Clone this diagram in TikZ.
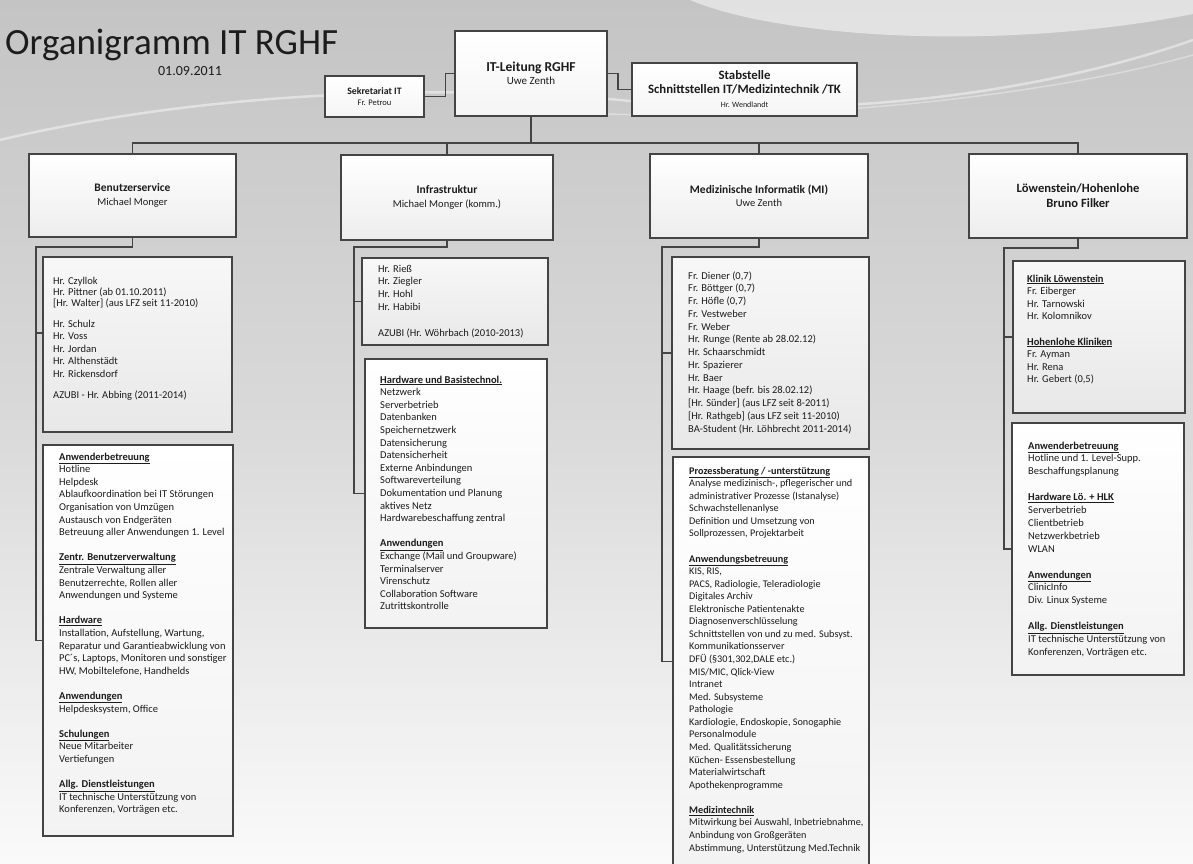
\documentclass[tikz,border=0pt]{standalone}
\usepackage{fontspec}
\setmainfont{Carlito}
\usetikzlibrary{calc}
\definecolor{bgtop}{RGB}{196,196,196}
\definecolor{bgmid}{RGB}{218,218,218}
\definecolor{bgbot}{RGB}{250,250,250}
\definecolor{linec}{RGB}{68,68,68}
\definecolor{txt}{RGB}{28,28,28}
\newcommand{\hd}[1]{\underline{\textbf{#1}}}
\newcommand{\blk}[3][10.5]{\fontsize{#1}{#2}\selectfont\begin{tabular}[t]{@{}l@{}}#3\end{tabular}}
\tikzset{
  conn/.style={draw=linec, line width=1.3pt},
  topbox/.style={draw=linec, line width=1.4pt, top color=white, bottom color=gray!8, inner sep=0pt, align=center, text=txt},
  depbox/.style={draw=linec, line width=2.8pt, top color=white, bottom color=gray!14, inner sep=0pt, align=center, text=txt},
  pbox/.style={draw=linec, line width=1.1pt, top color=gray!6, bottom color=gray!18, inner sep=0pt},
  tbox/.style={draw=linec, line width=1.1pt, top color=white, bottom color=gray!10, inner sep=0pt},
  blocktext/.style={anchor=base west, inner sep=0pt, text=txt},
}
\begin{document}
\begin{tikzpicture}[x=1pt,y=-1pt]
\useasboundingbox (0,0) rectangle (1193,863);
% background
\shade[top color=bgtop, bottom color=bgbot, middle color=bgmid] (0,0) rectangle (1193,863);
\fill[white, opacity=0.5] (690,0) .. controls (780,38) and (1000,52) .. (1193,14) -- (1193,0) -- cycle;
\draw[white, opacity=0.45, line width=2.5pt] (0,140) .. controls (200,92) and (450,82) .. (640,102) .. controls (850,120) and (1050,90) .. (1193,40);
\draw[white, opacity=0.35, line width=1.5pt] (560,112) .. controls (800,125) and (1050,95) .. (1193,55);

% title
\node[anchor=base west, inner sep=0pt, text=txt, font=\fontsize{37}{40}\selectfont] (title) at (5,54) {Organigramm IT RGHF};
\node[anchor=base, inner sep=0pt, text=txt, font=\fontsize{14}{16}\selectfont] (date) at (190,75) {01.09.2011};

% top boxes
\node[topbox, minimum width=99pt, minimum height=41pt, font=\fontsize{8.5}{11}\selectfont] (sek) at (374.5,96.5) {{\fontsize{9.8}{11}\selectfont\textbf{Sekretariat IT}}\\Fr. Petrou};
\node[topbox, line width=2.2pt, minimum width=152pt, minimum height=85pt, font=\fontsize{11}{13}\selectfont] (lead) at (531,73.5) {{\fontsize{13.6}{13}\selectfont\textbf{IT-Leitung RGHF}}\\Uwe Zenth};
\node[topbox, minimum width=225pt, minimum height=53pt, font=\fontsize{8}{14}\selectfont] (stab) at (744.5,89.5) {{\fontsize{12.8}{14}\selectfont\textbf{Stabstelle}}\\{\fontsize{12.8}{14}\selectfont\textbf{Schnittstellen IT/Medizintechnik /TK}}\\Hr. Wendlandt};

% departments
\node[depbox, minimum width=207pt, minimum height=83pt, font=\fontsize{10.5}{14}\selectfont] (d1) at (132.5,195.5) {{\fontsize{11.5}{14}\selectfont\textbf{Benutzerservice}}\\Michael Monger};
\node[depbox, minimum width=212pt, minimum height=85pt, font=\fontsize{10.5}{14}\selectfont] (d2) at (447,197.5) {{\fontsize{11.5}{14}\selectfont\textbf{Infrastruktur}}\\Michael Monger (komm.)};
\node[depbox, minimum width=218pt, minimum height=84pt, font=\fontsize{10.5}{12.5}\selectfont] (d3) at (759,196) {{\fontsize{11.5}{12.5}\selectfont\textbf{Medizinische Informatik (MI)}}\\Uwe Zenth};
\node[depbox, minimum width=218pt, minimum height=84pt, font=\fontsize{12.6}{15}\selectfont\bfseries] (d4) at (1078,196) {Löwenstein/Hohenlohe\\Bruno Filker};

% sub boxes
\node[pbox, minimum width=189pt, minimum height=175pt] (p1) at (137.5,344.5) {};
\node[tbox, minimum width=190pt, minimum height=391pt] (t1) at (138,640.5) {};
\node[pbox, minimum width=186pt, minimum height=87pt] (p2) at (455,301.5) {};
\node[tbox, minimum width=182pt, minimum height=269pt] (t2) at (456,493.5) {};
\node[pbox, minimum width=197pt, minimum height=192pt] (p3) at (770.5,353) {};
\node[tbox, minimum width=196pt, minimum height=409pt] (t3) at (771,661.5) {};
\node[pbox, minimum width=172pt, minimum height=152pt] (p4) at (1099,337) {};
\node[tbox, minimum width=172pt, minimum height=252pt] (t4) at (1098,549) {};

% connectors
\coordinate (busy) at (0,143);
\draw[conn] (sek.east) -- ++(21,0) |- (lead.west);
\draw[conn] (lead.east) -- ++(10,0) |- (stab.west);
\draw[conn] (lead.south) -- (lead.south |- busy);
\draw[conn] (d1.north) -- (d1.north |- busy) -- (d4.north |- busy) -- (d4.north);
\draw[conn] (d2.north) -- (d2.north |- busy);
\draw[conn] (d3.north) -- (d3.north |- busy);

\coordinate (v1) at (36,247);
\coordinate (v2) at (354,247);
\coordinate (v3) at (662,247);
\coordinate (v4) at (1004,248);
\draw[conn] (d1.south) |- (v1) |- (t1.west);
\draw[conn] (v1 |- 0,333) -- (p1.west |- 0,333);
\draw[conn] (d2.south) |- (v2) |- (t2.west);
\draw[conn] (v2 |- p2.west) -- (p2.west);
\draw[conn] (d3.south) |- (v3) |- (t3.west);
\draw[conn] (v3 |- p3.west) -- (p3.west);
\draw[conn] (d4.south) |- (v4) |- (t4.west);
\draw[conn] (v4 |- p4.west) -- (p4.west);

% texts
\node[blocktext] (p1txt) at (53,284) {\blk{12.5}{Hr. Czyllok\\[-1.5pt]
Hr. Pittner (ab 01.10.2011)\\[-1.5pt]
{[}Hr. Walter{]} (aus LFZ seit 11-2010)\\[8.5pt]
Hr. Schulz\\
Hr. Voss\\
Hr. Jordan\\
Hr. Althenstädt\\
Hr. Rickensdorf\\[8.5pt]
AZUBI - Hr. Abbing (2011-2014)}};

\node[blocktext] (t1txt) at (59,460) {\blk{12.6}{\hd{Anwenderbetreuung}\\
Hotline\\
Helpdesk\\
Ablaufkoordination bei IT Störungen\\
Organisation von Umzügen\\
Austausch von Endgeräten\\
Betreuung aller Anwendungen 1. Level\\
\\
\hd{Zentr. Benutzerverwaltung}\\
Zentrale Verwaltung aller\\
Benutzerrechte, Rollen aller\\
Anwendungen und Systeme\\
\\
\hd{Hardware}\\
Installation, Aufstellung, Wartung,\\
Reparatur und Garantieabwicklung von\\
PC´s, Laptops, Monitoren und sonstiger\\
HW, Mobiltelefone, Handhelds\\
\\
\hd{Anwendungen}\\
Helpdesksystem, Office\\
\\
\hd{Schulungen}\\
Neue Mitarbeiter\\
Vertiefungen\\
\\
\hd{Allg. Dienstleistungen}\\
IT technische Unterstützung von\\
Konferenzen, Vorträgen etc.}};

\node[blocktext] (p2txt) at (378,272) {\blk{12.9}{Hr. Rieß\\
Hr. Ziegler\\
Hr. Hohl\\
Hr. Habibi\\
\\
AZUBI (Hr. Wöhrbach (2010-2013)}};

\node[blocktext] (t2txt) at (380,383) {\blk{12.6}{\hd{Hardware und Basistechnol.}\\
Netzwerk\\
Serverbetrieb\\
Datenbanken\\
Speichernetzwerk\\
Datensicherung\\
Datensicherheit\\
Externe Anbindungen\\
Softwareverteilung\\
Dokumentation und Planung\\
aktives Netz\\
Hardwarebeschaffung zentral\\
\\
\hd{Anwendungen}\\
Exchange (Mail und Groupware)\\
Terminalserver\\
Virenschutz\\
Collaboration Software\\
Zutrittskontrolle}};

\node[blocktext] (p3txt) at (688,279) {\blk{12.75}{Fr. Diener (0,7)\\
Fr. Böttger (0,7)\\
Fr. Höfle (0,7)\\
Fr. Vestweber\\
Fr. Weber\\
Hr. Runge (Rente ab 28.02.12)\\
Hr. Schaarschmidt\\
Hr. Spazierer\\
Hr. Baer\\
Hr. Haage (befr. bis 28.02.12)\\
{[}Hr. Sünder{]} (aus LFZ seit 8-2011)\\
{[}Hr. Rathgeb{]} (aus LFZ seit 11-2010)\\
BA-Student (Hr. Löhbrecht 2011-2014)}};

\node[blocktext] (t3txt) at (689,474) {\blk[10.2]{12.57}{\hd{Prozessberatung / -unterstützung}\\
Analyse medizinisch-, pflegerischer und\\
administrativer Prozesse (Istanalyse)\\
Schwachstellenanlyse\\
Definition und Umsetzung von\\
Sollprozessen, Projektarbeit\\
\\
\hd{Anwendungsbetreuung}\\
KIS, RIS,\\
PACS, Radiologie, Teleradiologie\\
Digitales Archiv\\
Elektronische Patientenakte\\
Diagnosenverschlüsselung\\
Schnittstellen von und zu med. Subsyst.\\
Kommunikationsserver\\
DFÜ (§301,302,DALE etc.)\\
MIS/MIC, Qlick-View\\
Intranet\\
Med. Subsysteme\\
Pathologie\\
Kardiologie, Endoskopie, Sonogaphie\\
Personalmodule\\
Med. Qualitätssicherung\\
Küchen- Essensbestellung\\
Materialwirtschaft\\
Apothekenprogramme\\
\\
\hd{Medizintechnik}\\
Mitwirkung bei Auswahl, Inbetriebnahme,\\
Anbindung von Großgeräten\\
Abstimmung, Unterstützung Med.Technik}};

\node[blocktext] (p4txt) at (1027,282) {\blk{12.6}{\hd{Klinik Löwenstein}\\
Fr. Eiberger\\
Hr. Tarnowski\\
Hr. Kolomnikov\\
\\
\hd{Hohenlohe Kliniken}\\
Fr. Ayman\\
Hr. Rena\\
Hr. Gebert (0,5)}};

\node[blocktext] (t4txt) at (1028,449) {\blk{12.9}{\hd{Anwenderbetreuung}\\
Hotline und 1. Level-Supp.\\
Beschaffungsplanung\\
\\
\hd{Hardware Lö. + HLK}\\
Serverbetrieb\\
Clientbetrieb\\
Netzwerkbetrieb\\
WLAN\\
\\
\hd{Anwendungen}\\
ClinicInfo\\
Div. Linux Systeme\\
\\
\hd{Allg. Dienstleistungen}\\
IT technische Unterstützung von\\
Konferenzen, Vorträgen etc.}};
\end{tikzpicture}
\end{document}
